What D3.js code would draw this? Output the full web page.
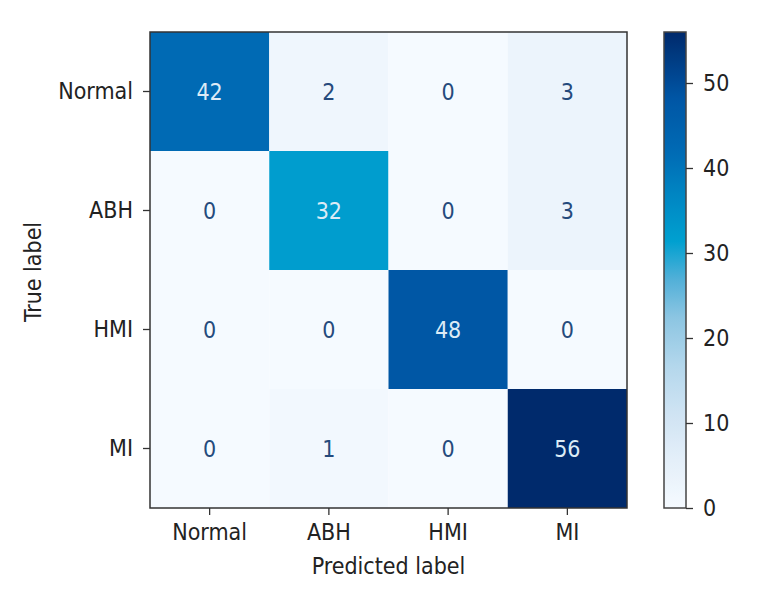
<!DOCTYPE html>
<html>
<head>
<meta charset="utf-8">
<script src="https://cdn.jsdelivr.net/npm/d3@7"></script>
<style>
  html, body { margin: 0; padding: 0; background: #ffffff; }
  svg { display: block; font-family: "DejaVu Sans Condensed", "DejaVu Sans", sans-serif; }
</style>
</head>
<body>
<svg id="chart" width="766" height="591"></svg>
<script>
// ---- data ----
const trueLabels = ["Normal", "ABH", "HMI", "MI"];
const predLabels = ["Normal", "ABH", "HMI", "MI"];
const rowNormal = [42, 2, 0, 3];
const rowABH    = [0, 32, 0, 3];
const rowHMI    = [0, 0, 48, 0];
const rowMI     = [0, 1, 0, 56];
const colorbarTicks = [0, 10, 20, 30, 40, 50];
const xTitle = "Predicted label";
const yTitle = "True label";

const matrix = [rowNormal, rowABH, rowHMI, rowMI];
const cells = [];
matrix.forEach((row, i) => row.forEach((v, j) => cells.push({ t: trueLabels[i], p: predLabels[j], v })));
const vmin = d3.min(cells, d => d.v), vmax = d3.max(cells, d => d.v);

// ---- layout ----
const svg = d3.select("#chart");
const L = 150, R = 627, T = 32, B = 508;
const fontSize = 23;
const FONT = "DejaVu Sans Condensed, DejaVu Sans, sans-serif";

const x = d3.scaleBand().domain(predLabels).range([L, R]).padding(0);
const y = d3.scaleBand().domain(trueLabels).range([T, B]).padding(0);

// colormap resembling the (colour-shifted) Blues in the reference
const stops = [
  [0.00, "#f5faff"], [0.10, "#e4eff9"], [0.20, "#cfe3f3"], [0.30, "#b3d7ec"],
  [0.40, "#8cc5e2"], [0.48, "#52b0d8"], [0.56, "#00a0d0"], [0.66, "#0085c2"],
  [0.75, "#006ab4"], [0.86, "#0056a5"], [1.00, "#002a6c"]
];
const cmap = d3.scaleLinear()
  .domain(stops.map(s => vmin + s[0] * (vmax - vmin)))
  .range(stops.map(s => s[1]))
  .interpolate(d3.interpolateRgb)
  .clamp(true);

// cells
svg.append("g").selectAll("rect").data(cells).join("rect")
  .attr("x", d => x(d.p)).attr("y", d => y(d.t))
  .attr("width", x.bandwidth()).attr("height", y.bandwidth())
  .attr("fill", d => cmap(d.v));

// cell texts
const thresh = (vmax + vmin) / 2;
svg.append("g").selectAll("text").data(cells).join("text")
  .attr("x", d => x(d.p) + x.bandwidth() / 2)
  .attr("y", d => y(d.t) + y.bandwidth() / 2)
  .attr("text-anchor", "middle").attr("dominant-baseline", "central")
  .attr("font-size", fontSize).attr("font-family", FONT)
  .attr("fill", d => d.v >= thresh ? "#dcebf6" : "#254a7c")
  .text(d => d.v);

// frame
svg.append("rect").attr("x", L).attr("y", T).attr("width", R - L).attr("height", B - T)
  .attr("fill", "none").attr("stroke", "#333").attr("stroke-width", 1.5);

// axes
const xAxis = svg.append("g").attr("transform", `translate(0,${B})`)
  .call(d3.axisBottom(x).tickSize(7).tickPadding(9));
const yAxis = svg.append("g").attr("transform", `translate(${L},0)`)
  .call(d3.axisLeft(y).tickSize(7).tickPadding(10));
[xAxis, yAxis].forEach(g => {
  g.select(".domain").remove();
  g.selectAll("line").attr("stroke", "#333").attr("stroke-width", 1.3);
  g.selectAll("text").attr("font-size", fontSize).attr("fill", "#222")
    .attr("font-family", FONT);
});

svg.append("text").attr("x", (L + R) / 2).attr("y", 574)
  .attr("text-anchor", "middle").attr("font-size", fontSize).attr("fill", "#222")
  .attr("font-family", FONT)
  .text(xTitle);
svg.append("text").attr("transform", `translate(41,${(T + B) / 2 + 2}) rotate(-90)`)
  .attr("text-anchor", "middle").attr("font-size", fontSize).attr("fill", "#222")
  .attr("font-family", FONT)
  .text(yTitle);

// colorbar
const cbL = 664, cbW = 22;
const cy = d3.scaleLinear().domain([vmin, vmax]).range([B, T]);
const defs = svg.append("defs");
const grad = defs.append("linearGradient").attr("id", "cbgrad")
  .attr("x1", 0).attr("y1", 1).attr("x2", 0).attr("y2", 0);
d3.range(0, 1.0001, 0.02).forEach(t => {
  grad.append("stop").attr("offset", t).attr("stop-color", cmap(vmin + t * (vmax - vmin)));
});
svg.append("rect").attr("x", cbL).attr("y", T).attr("width", cbW).attr("height", B - T)
  .attr("fill", "url(#cbgrad)").attr("stroke", "#444").attr("stroke-width", 1.5);
const cAxis = svg.append("g").attr("transform", `translate(${cbL + cbW},0)`)
  .call(d3.axisRight(cy).tickValues(colorbarTicks).tickSize(7).tickPadding(10));
cAxis.select(".domain").remove();
cAxis.selectAll("line").attr("stroke", "#333").attr("stroke-width", 1.3);
cAxis.selectAll("text").attr("font-size", fontSize).attr("fill", "#222")
  .attr("font-family", FONT);
</script>
</body>
</html>
